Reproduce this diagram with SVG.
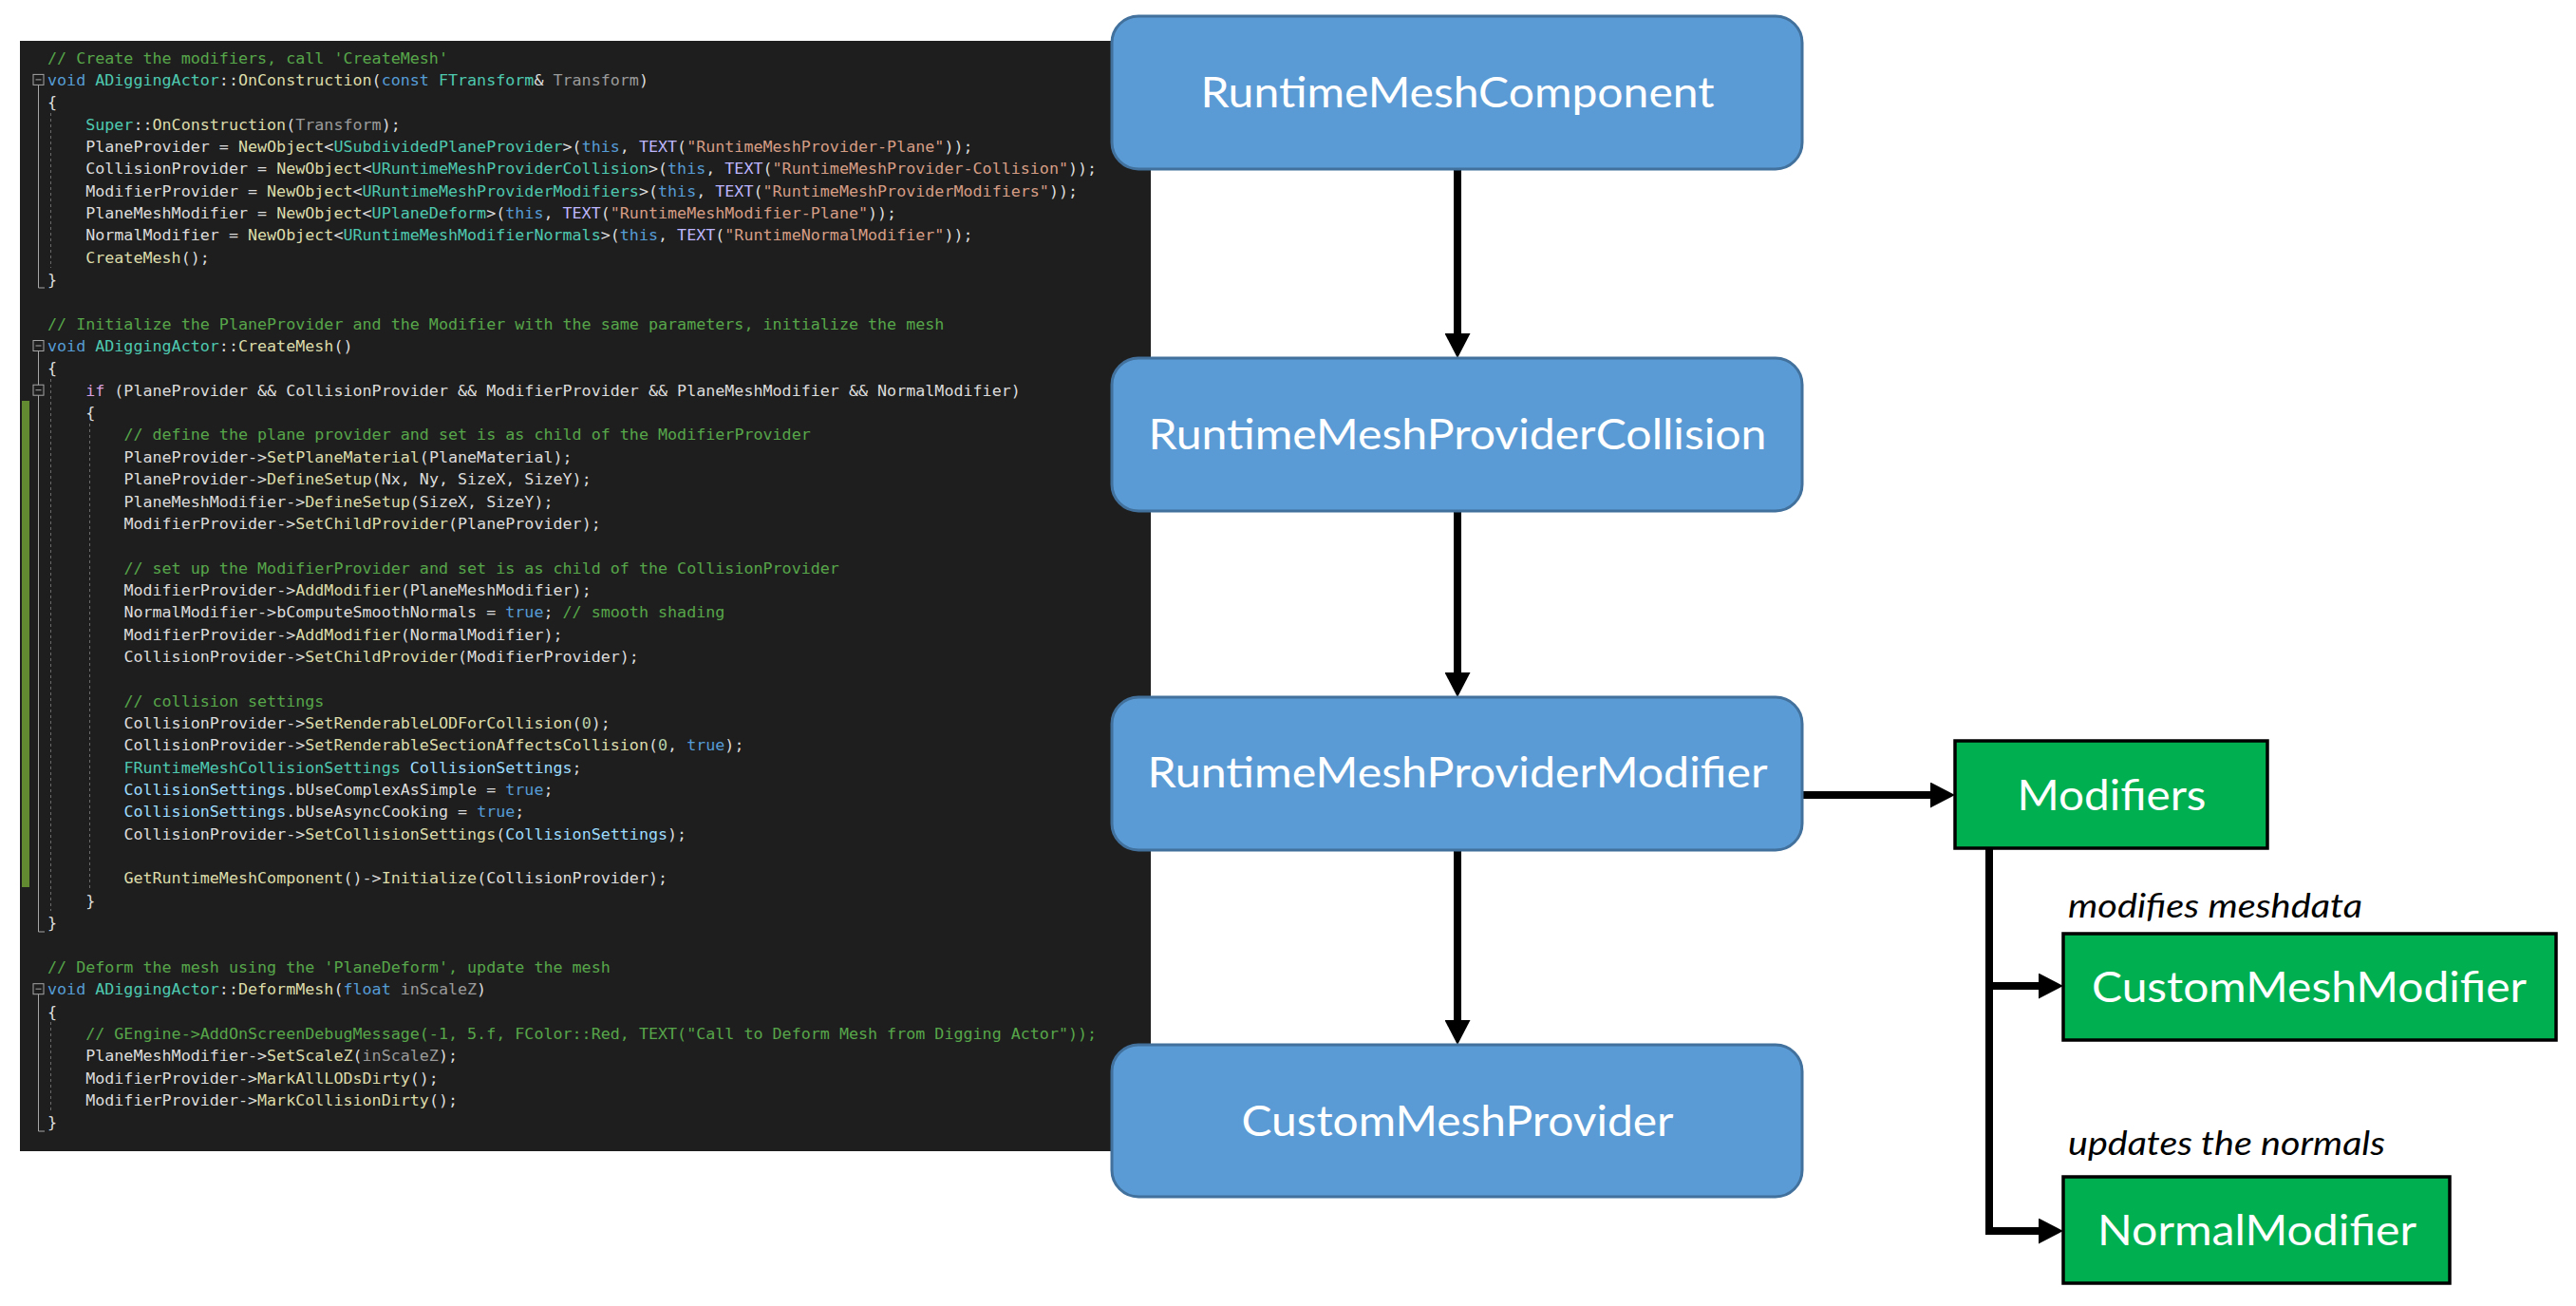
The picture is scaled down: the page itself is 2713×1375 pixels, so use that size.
<svg xmlns="http://www.w3.org/2000/svg" width="2713" height="1375" viewBox="0 0 2713 1375">
<defs>
<style>
.code text{font-family:"DejaVu Sans Mono","Liberation Mono",monospace;font-size:16.7px;fill:#DCDCDC}
.c{fill:#57A64A}.k{fill:#569CD6}.t{fill:#4EC9B0}.f{fill:#DCDCAA}.p{fill:#9A9A9A}.s{fill:#D69D85}.m{fill:#BEB7FF}.v{fill:#9CDCFE}.n{fill:#B5CEA8}.ctl{fill:#D8A0DF}
.fold{fill:#1E1E1E;stroke:#A5A5A5;stroke-width:1}
.foldline{fill:none;stroke:#A5A5A5;stroke-width:1}
.guide{stroke:#6A6A6A;stroke-width:1;stroke-dasharray:3 3}
.blue rect{fill:#5B9BD5;stroke:#41719C;stroke-width:3}
.green rect{fill:#00B050;stroke:#000;stroke-width:3.5}
.lbl{font-family:Lato,"Open Sans","Liberation Sans",sans-serif;font-size:45px;fill:#FFFFFF;text-anchor:middle}
.note{font-family:Lato,"Open Sans","Liberation Sans",sans-serif;font-size:35px;font-style:italic;fill:#000}
.conn{fill:none;stroke:#000;stroke-width:8;stroke-linejoin:miter}
</style>
<marker id="ah" markerUnits="userSpaceOnUse" viewBox="0 0 26 27" markerWidth="26" markerHeight="27" refX="6" refY="13.5" orient="auto">
<path d="M0,0 L26,13.5 L0,27 Z" fill="#000"/>
</marker>
</defs>
<rect x="0" y="0" width="2713" height="1375" fill="#FFFFFF"/>

<g id="code-panel">
<rect x="21" y="43" width="1191" height="1169" fill="#1E1E1E"/>
<rect x="23" y="422" width="8" height="512" fill="#628B31"/>
<line class="guide" x1="53.5" y1="119" x2="53.5" y2="282"/>
<line class="guide" x1="53.5" y1="399" x2="53.5" y2="959"/>
<line class="guide" x1="53.5" y1="1076" x2="53.5" y2="1170"/>
<line class="guide" x1="94.5" y1="446" x2="94.5" y2="936"/>
<path class="foldline" d="M40.5,89.4 V303 H47"/>
<path class="foldline" d="M40.5,369.5 V981 H47"/>
<path class="foldline" d="M40.5,1046.7 V1191 H47"/>
<g>
<rect class="fold" x="35" y="78.4" width="11" height="11"/><line class="foldline" x1="37.5" y1="83.9" x2="43.5" y2="83.9"/>
<rect class="fold" x="35" y="358.5" width="11" height="11"/><line class="foldline" x1="37.5" y1="364" x2="43.5" y2="364"/>
<rect class="fold" x="35" y="405.2" width="11" height="11"/><line class="foldline" x1="37.5" y1="410.7" x2="43.5" y2="410.7"/>
<rect class="fold" x="35" y="1035.7" width="11" height="11"/><line class="foldline" x1="37.5" y1="1041.2" x2="43.5" y2="1041.2"/>
</g>
<g class="code" xml:space="preserve">
<text x="50" y="66.5"><tspan class="c">// Create the modifiers, call 'CreateMesh'</tspan></text>
<text x="50" y="89.85"><tspan class="k">void</tspan> <tspan class="t">ADiggingActor</tspan>::<tspan class="f">OnConstruction</tspan>(<tspan class="k">const</tspan> <tspan class="t">FTransform</tspan>&amp; <tspan class="p">Transform</tspan>)</text>
<text x="50" y="113.2">{</text>
<text x="90.2" y="136.55"><tspan class="t">Super</tspan>::<tspan class="f">OnConstruction</tspan>(<tspan class="p">Transform</tspan>);</text>
<text x="90.2" y="159.9">PlaneProvider = <tspan class="f">NewObject</tspan>&lt;<tspan class="t">USubdividedPlaneProvider</tspan>&gt;(<tspan class="k">this</tspan>, <tspan class="m">TEXT</tspan>(<tspan class="s">"RuntimeMeshProvider-Plane"</tspan>));</text>
<text x="90.2" y="183.25">CollisionProvider = <tspan class="f">NewObject</tspan>&lt;<tspan class="t">URuntimeMeshProviderCollision</tspan>&gt;(<tspan class="k">this</tspan>, <tspan class="m">TEXT</tspan>(<tspan class="s">"RuntimeMeshProvider-Collision"</tspan>));</text>
<text x="90.2" y="206.6">ModifierProvider = <tspan class="f">NewObject</tspan>&lt;<tspan class="t">URuntimeMeshProviderModifiers</tspan>&gt;(<tspan class="k">this</tspan>, <tspan class="m">TEXT</tspan>(<tspan class="s">"RuntimeMeshProviderModifiers"</tspan>));</text>
<text x="90.2" y="229.95">PlaneMeshModifier = <tspan class="f">NewObject</tspan>&lt;<tspan class="t">UPlaneDeform</tspan>&gt;(<tspan class="k">this</tspan>, <tspan class="m">TEXT</tspan>(<tspan class="s">"RuntimeMeshModifier-Plane"</tspan>));</text>
<text x="90.2" y="253.3">NormalModifier = <tspan class="f">NewObject</tspan>&lt;<tspan class="t">URuntimeMeshModifierNormals</tspan>&gt;(<tspan class="k">this</tspan>, <tspan class="m">TEXT</tspan>(<tspan class="s">"RuntimeNormalModifier"</tspan>));</text>
<text x="90.2" y="276.65"><tspan class="f">CreateMesh</tspan>();</text>
<text x="50" y="300">}</text>
<text x="50" y="346.7"><tspan class="c">// Initialize the PlaneProvider and the Modifier with the same parameters, initialize the mesh</tspan></text>
<text x="50" y="370.05"><tspan class="k">void</tspan> <tspan class="t">ADiggingActor</tspan>::<tspan class="f">CreateMesh</tspan>()</text>
<text x="50" y="393.4">{</text>
<text x="90.2" y="416.75"><tspan class="ctl">if</tspan> (PlaneProvider &amp;&amp; CollisionProvider &amp;&amp; ModifierProvider &amp;&amp; PlaneMeshModifier &amp;&amp; NormalModifier)</text>
<text x="90.2" y="440.1">{</text>
<text x="130.4" y="463.45"><tspan class="c">// define the plane provider and set is as child of the ModifierProvider</tspan></text>
<text x="130.4" y="486.8">PlaneProvider-&gt;<tspan class="f">SetPlaneMaterial</tspan>(PlaneMaterial);</text>
<text x="130.4" y="510.15">PlaneProvider-&gt;<tspan class="f">DefineSetup</tspan>(Nx, Ny, SizeX, SizeY);</text>
<text x="130.4" y="533.5">PlaneMeshModifier-&gt;<tspan class="f">DefineSetup</tspan>(SizeX, SizeY);</text>
<text x="130.4" y="556.85">ModifierProvider-&gt;<tspan class="f">SetChildProvider</tspan>(PlaneProvider);</text>
<text x="130.4" y="603.55"><tspan class="c">// set up the ModifierProvider and set is as child of the CollisionProvider</tspan></text>
<text x="130.4" y="626.9">ModifierProvider-&gt;<tspan class="f">AddModifier</tspan>(PlaneMeshModifier);</text>
<text x="130.4" y="650.25">NormalModifier-&gt;bComputeSmoothNormals = <tspan class="k">true</tspan>; <tspan class="c">// smooth shading</tspan></text>
<text x="130.4" y="673.6">ModifierProvider-&gt;<tspan class="f">AddModifier</tspan>(NormalModifier);</text>
<text x="130.4" y="696.95">CollisionProvider-&gt;<tspan class="f">SetChildProvider</tspan>(ModifierProvider);</text>
<text x="130.4" y="743.65"><tspan class="c">// collision settings</tspan></text>
<text x="130.4" y="767">CollisionProvider-&gt;<tspan class="f">SetRenderableLODForCollision</tspan>(<tspan class="n">0</tspan>);</text>
<text x="130.4" y="790.35">CollisionProvider-&gt;<tspan class="f">SetRenderableSectionAffectsCollision</tspan>(<tspan class="n">0</tspan>, <tspan class="k">true</tspan>);</text>
<text x="130.4" y="813.7"><tspan class="t">FRuntimeMeshCollisionSettings</tspan> <tspan class="v">CollisionSettings</tspan>;</text>
<text x="130.4" y="837.05"><tspan class="v">CollisionSettings</tspan>.bUseComplexAsSimple = <tspan class="k">true</tspan>;</text>
<text x="130.4" y="860.4"><tspan class="v">CollisionSettings</tspan>.bUseAsyncCooking = <tspan class="k">true</tspan>;</text>
<text x="130.4" y="883.75">CollisionProvider-&gt;<tspan class="f">SetCollisionSettings</tspan>(<tspan class="v">CollisionSettings</tspan>);</text>
<text x="130.4" y="930.45"><tspan class="f">GetRuntimeMeshComponent</tspan>()-&gt;<tspan class="f">Initialize</tspan>(CollisionProvider);</text>
<text x="90.2" y="953.8">}</text>
<text x="50" y="977.15">}</text>
<text x="50" y="1023.85"><tspan class="c">// Deform the mesh using the 'PlaneDeform', update the mesh</tspan></text>
<text x="50" y="1047.2"><tspan class="k">void</tspan> <tspan class="t">ADiggingActor</tspan>::<tspan class="f">DeformMesh</tspan>(<tspan class="k">float</tspan> <tspan class="p">inScaleZ</tspan>)</text>
<text x="50" y="1070.55">{</text>
<text x="90.2" y="1093.9"><tspan class="c">// GEngine-&gt;AddOnScreenDebugMessage(-1, 5.f, FColor::Red, TEXT("Call to Deform Mesh from Digging Actor"));</tspan></text>
<text x="90.2" y="1117.25">PlaneMeshModifier-&gt;<tspan class="f">SetScaleZ</tspan>(<tspan class="p">inScaleZ</tspan>);</text>
<text x="90.2" y="1140.6">ModifierProvider-&gt;<tspan class="f">MarkAllLODsDirty</tspan>();</text>
<text x="90.2" y="1163.95">ModifierProvider-&gt;<tspan class="f">MarkCollisionDirty</tspan>();</text>
<text x="50" y="1187.3">}</text>
</g>
</g>

<g id="connectors">
<path class="conn" d="M1535,179 V357" marker-end="url(#ah)"/>
<path class="conn" d="M1535,539 V714" marker-end="url(#ah)"/>
<path class="conn" d="M1535,896 V1080" marker-end="url(#ah)"/>
<path class="conn" d="M1899,837 H2039" marker-end="url(#ah)"/>
<path class="conn" d="M2095,894 V1296 H2153" marker-end="url(#ah)"/>
<path class="conn" d="M2095,1038 H2153" marker-end="url(#ah)"/>
</g>

<g id="node-runtime-mesh-component" class="blue">
<rect x="1171" y="17" width="727" height="161" rx="28"/>
<text class="lbl" x="1535" y="113" textLength="541" lengthAdjust="spacingAndGlyphs">RuntimeMeshComponent</text>
</g>
<g id="node-provider-collision" class="blue">
<rect x="1171" y="377" width="727" height="161" rx="28"/>
<text class="lbl" x="1535" y="473" textLength="651" lengthAdjust="spacingAndGlyphs">RuntimeMeshProviderCollision</text>
</g>
<g id="node-provider-modifier" class="blue">
<rect x="1171" y="734" width="727" height="161" rx="28"/>
<text class="lbl" x="1535" y="829" textLength="653" lengthAdjust="spacingAndGlyphs">RuntimeMeshProviderModifier</text>
</g>
<g id="node-custom-mesh-provider" class="blue">
<rect x="1171" y="1100" width="727" height="160" rx="28"/>
<text class="lbl" x="1535" y="1196" textLength="455" lengthAdjust="spacingAndGlyphs">CustomMeshProvider</text>
</g>
<g id="node-modifiers" class="green">
<rect x="2059" y="780" width="329" height="113"/>
<text class="lbl" x="2224" y="853" textLength="199" lengthAdjust="spacingAndGlyphs">Modifiers</text>
</g>
<g id="node-custom-mesh-modifier" class="green">
<rect x="2173" y="983" width="519" height="112"/>
<text class="lbl" x="2432" y="1055" textLength="458" lengthAdjust="spacingAndGlyphs">CustomMeshModifier</text>
</g>
<g id="node-normal-modifier" class="green">
<rect x="2173" y="1239" width="407" height="112"/>
<text class="lbl" x="2377" y="1311" textLength="336" lengthAdjust="spacingAndGlyphs">NormalModifier</text>
</g>
<g id="labels">
<text class="note" x="2178" y="966" textLength="310" lengthAdjust="spacingAndGlyphs">modifies meshdata</text>
<text class="note" x="2178" y="1216" textLength="334" lengthAdjust="spacingAndGlyphs">updates the normals</text>
</g>
</svg>
